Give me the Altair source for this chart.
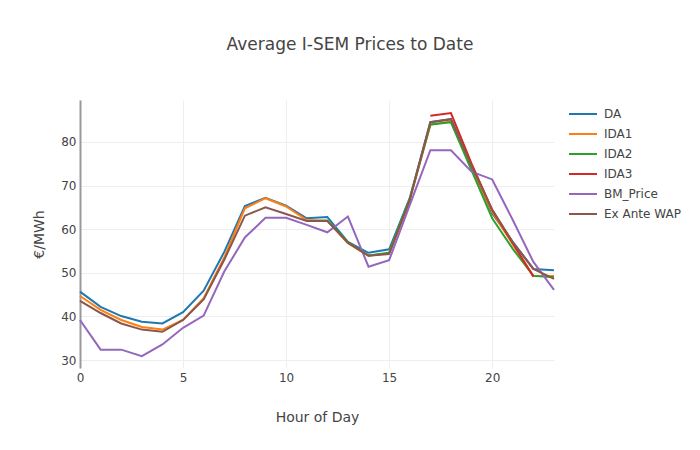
import altair as alt
import pandas as pd

hours = list(range(24))
da = [45.7, 42.2, 40.1, 38.8, 38.4, 41.0, 45.9, 54.8, 65.3, 67.2, 65.4, 62.5,
      62.8, 57.1, 54.6, 55.4, 67.1, 84.5, 85.2, 74.3, 63.6, 57.1, 50.9, 50.6]
ida1 = [44.7, 41.5, 39.2, 37.6, 37.0, 39.2, 44.2, 53.5, 64.8, 67.1, 65.2, 62.1,
        61.9, 56.8, 53.9, 54.5, 66.7, 83.9, 84.7, 74.0, 64.0, 56.5, 49.3, 49.3]
ida2_hours = list(range(11, 24))
ida2 = [61.9, 62.0, 57.0, 54.0, 54.6, 67.0, 84.0, 84.5, 73.5, 62.5, 55.5, 49.3, 49.0]
ida3_hours = list(range(17, 23))
ida3 = [86.0, 86.6, 75.0, 64.4, 56.8, 49.1]
bm = [39.2, 32.4, 32.4, 30.9, 33.6, 37.4, 40.2, 50.3, 58.1, 62.6, 62.6, 61.0,
      59.3, 62.9, 51.4, 52.9, 65.5, 78.1, 78.1, 73.2, 71.4, 62.1, 52.5, 46.1]
wap = [43.6, 40.8, 38.4, 37.0, 36.5, 39.2, 43.9, 53.0, 63.1, 65.0, 63.5, 61.9,
       61.9, 56.9, 53.9, 54.3, 66.7, 84.5, 85.2, 74.5, 64.5, 57.0, 50.9, 48.6]

series = ["DA", "IDA1", "IDA2", "IDA3", "BM_Price", "Ex Ante WAP"]
colors = ["#1f77b4", "#ff7f0e", "#2ca02c", "#d62728", "#9467bd", "#8c564b"]

rows = []
for name, hs, vals in [("DA", hours, da), ("IDA1", hours, ida1),
                       ("IDA2", ida2_hours, ida2), ("IDA3", ida3_hours, ida3),
                       ("BM_Price", hours, bm), ("Ex Ante WAP", hours, wap)]:
    for i, (h, v) in enumerate(zip(hs, vals)):
        rows.append({"hour": h, "price": v, "series": name, "i": i})
df = pd.DataFrame(rows)

FONT = "DejaVu Sans"

chart = alt.Chart(df).mark_line(strokeWidth=2).encode(
    x=alt.X("hour:Q",
            scale=alt.Scale(domain=[0, 23], nice=False, zero=False),
            axis=alt.Axis(values=[0, 5, 10, 15, 20], title="Hour of Day",
                          domain=False, ticks=False, grid=True,
                          gridColor="#eeeeee", labelFontSize=12,
                          labelColor="#444", labelPadding=4, labelFlush=False,
                          titleFontSize=14, titleColor="#444",
                          titleFontWeight="normal", titlePadding=27,
                          labelFont=FONT, titleFont=FONT)),
    y=alt.Y("price:Q",
            scale=alt.Scale(domain=[28.2, 89.6], nice=False, zero=False),
            axis=alt.Axis(values=[30, 40, 50, 60, 70, 80], title="€/MWh",
                          domain=True, domainColor="#999999", domainWidth=2,
                          ticks=False, grid=True, gridColor="#eeeeee",
                          labelFontSize=12, labelColor="#444", labelPadding=4,
                          labelFlush=False,
                          titleFontSize=14, titleColor="#444",
                          titleFontWeight="normal", titlePadding=14,
                          labelFont=FONT, titleFont=FONT)),
    color=alt.Color("series:N",
                    scale=alt.Scale(domain=series, range=colors),
                    sort=series,
                    legend=alt.Legend(title=None, orient="none",
                                      legendX=492, legendY=3,
                                      symbolType="M-1.4,0L1.4,0",
                                      symbolSize=400,
                                      symbolStrokeWidth=2, labelOffset=10,
                                      labelFontSize=12, labelColor="#444",
                                      labelFont=FONT, rowPadding=3)),
    detail="series:N",
    order="i:Q",
).properties(
    width=474, height=268,
    title=alt.TitleParams("Average I-SEM Prices to Date", fontSize=17,
                          color="#444", font=FONT, fontWeight="normal",
                          anchor="middle", dx=33, offset=46),
    autosize=alt.AutoSizeParams(type="none"),
    padding={"left": 72, "top": 92, "right": 130, "bottom": 66},
).configure(background="white", view=alt.ViewConfig(stroke=None))

chart.save("out.html", embed_options={"renderer": "svg", "actions": False})
